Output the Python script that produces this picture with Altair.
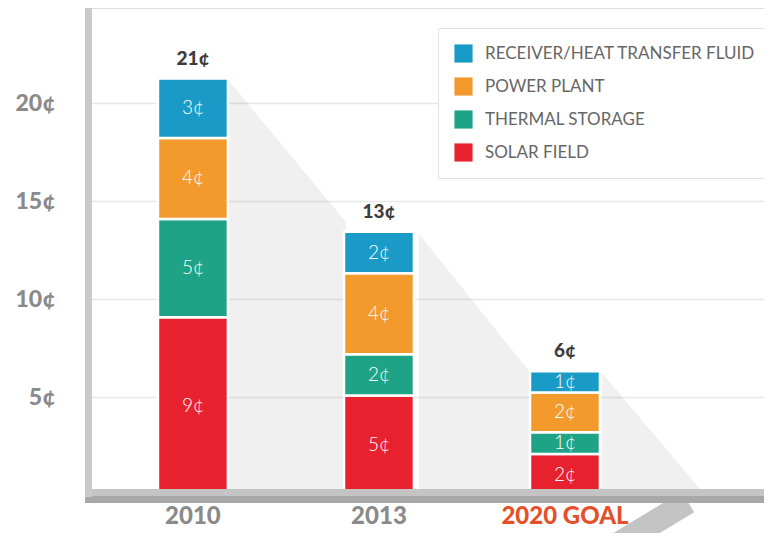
import altair as alt
import pandas as pd

years = ["2010", "2013", "2020 GOAL"]
components = ["SOLAR FIELD", "THERMAL STORAGE", "POWER PLANT", "RECEIVER/HEAT TRANSFER FLUID"]
# bar heights as drawn (cents)
solar_field = [9.07, 5.08, 2.09]
thermal_storage = [5.01, 2.10, 1.11]
power_plant = [4.14, 4.13, 2.03]
receiver = [3.03, 2.12, 1.09]
# printed labels (cents)
solar_field_lbl = [9, 5, 2]
thermal_storage_lbl = [5, 2, 1]
power_plant_lbl = [4, 4, 2]
receiver_lbl = [3, 2, 1]
totals_lbl = [21, 13, 6]
y_ticks = [5, 10, 15, 20]

legend_order = ["RECEIVER/HEAT TRANSFER FLUID", "POWER PLANT", "THERMAL STORAGE", "SOLAR FIELD"]
colors = ["#1a9bc7", "#f39a2c", "#1fa386", "#e8212f"]

series = [solar_field, thermal_storage, power_plant, receiver]
series_lbl = [solar_field_lbl, thermal_storage_lbl, power_plant_lbl, receiver_lbl]
rows, tot_rows = [], []
for i, yr in enumerate(years):
    base = 0
    for k, comp in enumerate(components):
        v = series[k][i]
        rows.append({"year": yr, "component": comp, "y0": base, "y1": base + v,
                     "mid": base + v / 2, "label": f"{series_lbl[k][i]}¢"})
        base += v
    tot_rows.append({"year": yr, "total": base, "label": f"{totals_lbl[i]}¢"})
df = pd.DataFrame(rows)
tot_df = pd.DataFrame(tot_rows)

# decorative perspective shadow (plot-pixel space)
shadow_df = pd.DataFrame({
    "id": ["a", "a", "b", "b", "c", "c"],
    "px": [141, 258, 331, 442, 514, 612],
    "top": [73, 214, 226, 364, 365, 481],
    "bot": [481, 481, 481, 481, 481, 481],
})

FONT = "Lato"
y_scale = alt.Scale(domain=[0, 24.85], nice=False)

shadow = alt.Chart(shadow_df).mark_area(color="#000000", opacity=0.06).encode(
    x=alt.X("px:Q", scale=alt.Scale(domain=[0, 676], nice=False, zero=False), axis=None),
    y=alt.Y("top:Q", scale=alt.Scale(domain=[487, 0], nice=False, zero=False), axis=None),
    y2="bot:Q",
    detail="id:N",
)

x_enc = alt.X("year:N", sort=years, title=None,
              scale=alt.Scale(paddingInner=0.624, paddingOuter=0.629, align=0.299),
              axis=alt.Axis(ticks=False, domain=False, labelPadding=9, labelFontSize=24,
                            labelFont=FONT, labelFontWeight=900, labelAngle=0, zindex=2,
                            labelColor={"condition": {"test": "datum.value === '2020 GOAL'", "value": "#e5502a"},
                                        "value": "#8a8a8a"}))

one = pd.DataFrame({"k": [0]})
stripe = alt.Chart(one).mark_rule(color="#c4c4c4", strokeWidth=24, strokeCap="butt").encode(
    x=alt.value(600), x2=alt.value(532), y=alt.value(494), y2=alt.value(535))

bars = alt.Chart(df).mark_bar(stroke="white", strokeWidth=2.5).encode(
    x=x_enc,
    y=alt.Y("y0:Q", scale=y_scale, title=None,
            axis=alt.Axis(values=y_ticks, ticks=False, domain=False, labelPadding=33,
                          labelFontSize=23, labelFont=FONT, labelFontWeight=900,
                          labelColor="#8a8a8a", labelExpr="datum.value + '¢'",
                          grid=True, gridColor="#e8e8e8", gridWidth=1.5)),
    y2="y1:Q",
    color=alt.Color("component:N", scale=alt.Scale(domain=legend_order, range=colors),
                    legend=alt.Legend(title=None, orient="none", legendX=350, legendY=20,
                                      symbolType="square", symbolSize=330, symbolStrokeWidth=0,
                                      labelFont=FONT, labelFontSize=17, labelColor="#666666",
                                      labelLimit=0,
                                      rowPadding=14, padding=16, labelOffset=12,
                                      fillColor="white", strokeColor="#e2e2e2")),
)

seg_labels = alt.Chart(df).mark_text(color="white", font=FONT, fontSize=19, fontWeight=300,
                                     baseline="middle").encode(
    x=alt.X("year:N", sort=years),
    y=alt.Y("mid:Q", scale=y_scale),
    text="label:N",
)

tot_labels = alt.Chart(tot_df).mark_text(color="#3d3d3d", font=FONT, fontSize=19, fontWeight=900,
                                         baseline="middle", dy=-20).encode(
    x=alt.X("year:N", sort=years),
    y=alt.Y("total:Q", scale=y_scale),
    text="label:N",
)

floor_top = alt.Chart(one).mark_rect(color="#c4c4c4").encode(
    x=alt.value(-3), x2=alt.value(700), y=alt.value(481), y2=alt.value(488))
floor_bot = alt.Chart(one).mark_rect(color="#a8a8a8").encode(
    x=alt.value(-3), x2=alt.value(700), y=alt.value(488), y2=alt.value(495))
wall = alt.Chart(one).mark_rect(color="#cacaca").encode(
    x=alt.value(-3), x2=alt.value(4), y=alt.value(0), y2=alt.value(489))

main = alt.layer(stripe, bars, seg_labels, tot_labels, floor_top, floor_bot, wall)

chart = alt.layer(shadow, main).resolve_scale(x="independent", y="independent").properties(
    width=676, height=487,
    autosize=alt.AutoSizeParams(type="none"),
    padding={"left": 80, "top": 0, "right": 0, "bottom": 38},
).configure_view(stroke="#c8c8c8", strokeWidth=1.5).configure(background="white")

chart.save("out.html", embed_options={"renderer": "svg", "actions": False})
